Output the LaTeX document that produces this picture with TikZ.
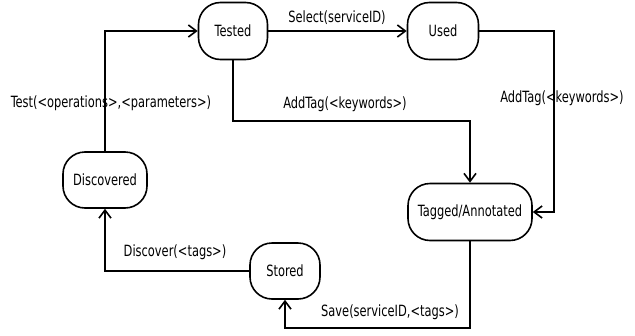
\documentclass[tikz,border=0pt]{standalone}
\usepackage{fontspec}
\setmainfont{DejaVu Sans Condensed}[FakeStretch=0.82]
\usetikzlibrary{arrows.meta}
\begin{document}
\begin{tikzpicture}[x=1pt,y=-1pt,
  state/.style={draw,line width=1.6pt,rounded corners=22pt,minimum height=57pt,inner sep=0pt,font=\fontsize{15.5}{18}\selectfont},
  conn/.style={line width=1.6pt,-{Straight Barb[length=8pt,width=12pt,line width=1.6pt]}},
  lbl/.style={font=\fontsize{15.5}{18}\selectfont,inner sep=0pt}]
\useasboundingbox (0,0) rectangle (635,335);
\node[state,minimum width=69pt] (tested) at (233,31) {Tested};
\node[state,minimum width=71pt] (used) at (443,31) {Used};
\node[state,minimum width=84pt,minimum height=56pt] (disc) at (105,180) {Discovered};
\node[state,minimum width=70pt,minimum height=56pt] (stored) at (285,271) {Stored};
\node[state,minimum width=124pt] (tag) at (470,212) {Tagged/Annotated};
\coordinate (c1) at (105,31);
\coordinate (c2) at (554,31);
\coordinate (c3) at (554,212);
\coordinate (c4) at (233,121);
\coordinate (c5) at (470,121);
\coordinate (c6) at (470,328);
\coordinate (c7) at (285,328);
\coordinate (c8) at (105,271);
\draw[conn] (disc.north) -- (c1) -- (tested.west);
\draw[conn] (tested.east) -- (used.west);
\draw[conn] (used.east) -- (c2) -- (c3) -- (tag.east);
\draw[conn] (tested.south) -- (c4) -- (c5) -- (tag.north);
\draw[conn] (tag.south) -- (c6) -- (c7) -- (stored.south);
\draw[conn] (stored.west) -- (c8) -- (disc.south);
\node[lbl] (l1) at (337,18) {Select(serviceID)};
\node[lbl] (l2) at (562,98) {AddTag(<keywords>)};
\node[lbl] (l3) at (345,104) {AddTag(<keywords>)};
\node[lbl] (l4) at (111,103) {Test(<operations>,<parameters>)};
\node[lbl] (l5) at (175,252) {Discover(<tags>)};
\node[lbl] (l6) at (390,312) {Save(serviceID,<tags>)};
\end{tikzpicture}
\end{document}
